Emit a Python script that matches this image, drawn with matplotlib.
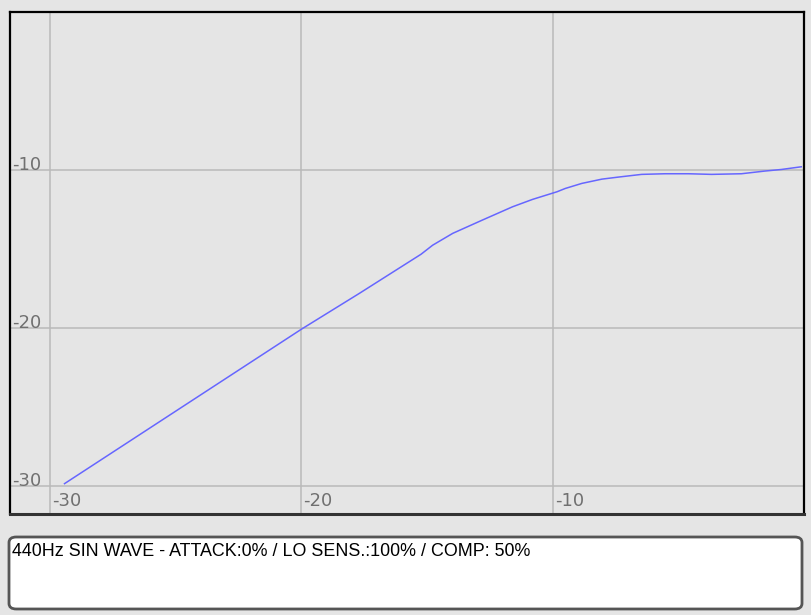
import matplotlib.pyplot as plt
from matplotlib.patches import FancyBboxPatch
from matplotlib.transforms import blended_transform_factory, offset_copy

# Data (input level vs output level)
input_db = [-29.43, -20.0, -17.7, -15.24, -14.78, -13.98, -12.8, -11.6, -10.8,
            -9.83, -9.5, -8.84, -8.04, -7.38, -6.46, -5.53, -4.6, -3.68,
            -2.49, -1.56, -0.9, -0.11]
output_db = [-29.83, -20.06, -17.8, -15.32, -14.75, -14.0, -13.16, -12.32, -11.85,
             -11.37, -11.16, -10.84, -10.57, -10.44, -10.27, -10.23, -10.23, -10.27,
             -10.23, -10.06, -9.96, -9.79]
x_ticks = [-30, -20, -10]
y_ticks = [-10, -20, -30]
caption = '440Hz SIN WAVE - ATTACK:0% / LO SENS.:100% / COMP: 50%'

bg = '#e5e5e5'
fig = plt.figure(figsize=(8.12, 6.15), dpi=100, facecolor=bg)
ax = fig.add_axes([10 / 812, 1 - 514 / 615, 794 / 812, 502 / 615])
ax.set_facecolor(bg)

ax.plot(input_db, output_db, color='#6666ff', lw=1.1, zorder=3)

ax.set_xlim(-31.6, 0)
ax.set_ylim(-31.75, 0)
ax.set_xticks(x_ticks)
ax.set_yticks(y_ticks)
ax.grid(True, color='#b9b9b9', lw=1.1)
ax.tick_params(length=0, labelbottom=False, labelleft=False)

for side in ['left', 'top', 'right']:
    ax.spines[side].set_color('black')
    ax.spines[side].set_linewidth(1.6)
ax.spines['bottom'].set_color('#333333')
ax.spines['bottom'].set_linewidth(2.2)

# tick labels drawn inside the plot area
ytr = offset_copy(blended_transform_factory(ax.transAxes, ax.transData), fig=fig, x=2, y=0, units='dots')
for v in y_ticks:
    ax.text(0, v, str(v), transform=ytr, ha='left', va='baseline',
            fontsize=13, color='#707070', family='DejaVu Sans')
xtr = offset_copy(blended_transform_factory(ax.transData, ax.transAxes), fig=fig, x=2, y=4, units='dots')
for v in x_ticks:
    ax.text(v, 0, str(v), transform=xtr, ha='left', va='bottom',
            fontsize=13, color='#707070', family='DejaVu Sans')

# caption box
box = FancyBboxPatch((9 / 812, 1 - 609 / 615), 793 / 812, 72 / 615,
                     boxstyle='round,pad=0,rounding_size=0.009',
                     transform=fig.transFigure, facecolor='white',
                     edgecolor='#555555', lw=2)
fig.patches.append(box)
fig.text(12 / 812, 1 - 543 / 615, caption, ha='left', va='top',
         fontsize=12.9, family='Liberation Sans', color='black')

plt.savefig('out.png', dpi=100, facecolor=bg)
